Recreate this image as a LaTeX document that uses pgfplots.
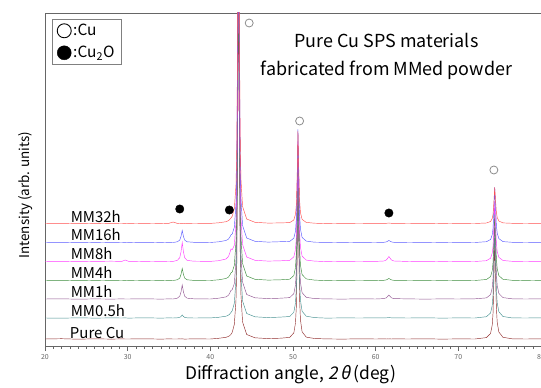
\documentclass[border=0pt]{standalone}
\usepackage{fontspec}
\setmainfont{Noto Sans CJK JP}
\newfontfamily\slfont[FakeSlant=0.2]{Noto Sans CJK JP}
\usepackage{pgfplots}
\usepackage{pgfplotstable}
\pgfplotsset{compat=1.18}
\definecolor{cRed}{RGB}{255,80,80}
\definecolor{cBlue}{RGB}{90,90,255}
\definecolor{cMag}{RGB}{255,60,255}
\definecolor{cGreen}{RGB}{60,140,60}
\definecolor{cPurp}{RGB}{145,85,145}
\definecolor{cTeal}{RGB}{70,145,145}
\definecolor{cBrown}{RGB}{145,45,45}
\pgfplotstableread{
x s1 s2 s3 s4 s5 s6 s7
20 7.0 28.0 47.0 65.5 84.5 103.5 122.5
22 7.3 27.8 47.2 65.3 84.7 103.3 122.7
24 6.8 28.2 46.8 65.7 84.3 103.7 122.3
26 7.2 27.9 47.1 65.4 84.6 103.4 122.6
28 6.9 28.1 46.9 65.6 84.8 103.6 122.4
29.3 7.1 28.0 47.1 65.5 84.6 103.5 122.5
29.7 7.0 28.1 47.0 65.6 86.0 103.6 122.6
30.1 7.0 27.9 47.0 65.4 84.7 103.4 122.4
32 7.2 28.2 47.2 65.6 84.4 103.7 122.6
34 6.9 27.9 46.9 65.4 84.6 103.4 122.4
35 7.1 28.1 47.1 65.6 84.5 103.6 122.7
35.5 7.0 28.0 47.0 65.5 84.6 103.5 124.0
36.0 7.0 28.2 47.8 66.2 85.6 104.2 122.6
36.3 7.1 28.6 49.8 67.9 88.3 105.9 122.5
36.45 7.0 29.5 54.0 71.5 94.0 109.5 122.6
36.6 7.2 31.0 61.0 77.5 103.5 115.5 122.7
36.75 7.0 29.5 54.0 71.5 94.0 109.5 122.5
36.9 6.9 28.6 49.8 67.9 88.3 105.9 122.4
37.2 7.0 28.2 47.8 66.2 85.6 104.2 122.6
38 7.1 28.0 47.2 65.6 84.8 103.7 122.5
40 7.0 28.1 47.0 65.5 84.6 103.5 122.6
41 7.7 28.7 47.8 66.2 85.3 104.2 123.2
41.9 8.7 29.8 49.1 67.5 87.0 105.5 124.3
42.2 9.6 30.9 50.8 69.0 89.6 107.0 125.4
42.35 10.4 32.0 53.0 70.8 93.0 108.8 126.5
42.5 11.6 33.6 55.6 73.1 97.1 111.1 128.1
42.65 13.7 35.3 56.3 74.1 96.3 112.1 129.8
42.9 21.6 42.8 62.4 80.7 100.7 118.7 137.3
43.1 45 66 85.4 103.8 123.3 141.8 160.6
43.2 83 104 123 141.5 160.5 179.5 198.5
43.3 197 218 237 255.5 274.5 293.5 312.5
43.4 387 408 427 445.5 464.5 483.5 502.5
43.5 227 248 267 285.5 304.5 323.5 342.5
43.6 102 123 142 160.5 179.5 198.5 217.5
43.7 52 73 92 110.5 129.5 148.5 167.5
43.9 24 45 64 82.5 101.5 120.5 139.5
44.4 11.5 32.5 51.5 70 89 108 127
45.4 8.2 29.2 48.2 66.7 85.7 104.7 123.7
47 7.4 28.4 47.4 65.9 84.9 103.9 122.9
48.5 7.8 28.9 47.8 66.2 85.2 104.3 123.1
49.6 8.6 29.5 48.4 66.8 85.7 104.6 123.4
50.1 13.1 33.7 52.3 70.4 89.1 107.8 126.0
50.3 23 43 61 78.5 96.5 114.8 131.7
50.4 39 58 75 91.5 108.5 126.1 140.9
50.5 87 103 117 130.5 144.5 160 168.5
50.6 167 178 187 195.5 204.5 216.5 214.5
50.7 99.8 115 128.2 140.9 154.1 169 175.9
50.8 47 65.5 82 98 114.5 131.8 145.5
50.9 26.2 46 63.8 81.1 98.9 117.1 133.5
51.1 14.2 34.8 53.3 71.4 89.9 108.6 126.6
51.6 8.9 29.8 48.7 67.1 85.9 104.9 123.6
52.6 7.5 28.4 47.4 65.9 84.9 103.8 122.8
54 7.1 27.9 47.1 65.4 84.4 103.6 122.4
56 6.9 28.1 46.9 65.6 84.6 103.4 122.6
58 7.2 28.0 47.2 65.5 84.5 103.6 122.5
60 7.0 28.1 47.0 65.4 84.6 103.5 122.6
61.0 7.1 28.1 47.4 65.7 85.0 103.7 122.6
61.3 7.0 28.2 48.2 66.1 86.1 104.1 122.7
61.45 7.1 28.3 49.6 66.8 87.7 104.8 122.8
61.6 7.0 28.5 51.0 67.5 89.5 105.5 123.0
61.75 7.1 28.3 49.6 66.8 87.7 104.8 122.8
61.9 7.0 28.2 48.2 66.1 86.1 104.1 122.7
62.2 7.1 28.1 47.4 65.7 85.0 103.7 122.6
64 7.0 28.0 47.1 65.5 84.5 103.5 122.5
66 7.2 28.2 46.9 65.6 84.7 103.6 122.7
68 6.9 27.9 47.1 65.4 84.4 103.4 122.4
70 7.1 28.1 47.0 65.6 84.6 103.6 122.6
72 7.0 28.0 47.2 65.5 84.5 103.5 122.5
73.4 8.4 29.3 48.1 66.5 85.3 104.3 123.0
73.9 12.5 33 51.4 69.4 87.8 106.5 124.5
74.1 21 40.6 58.2 75.3 92.9 111.2 127.5
74.2 33 51.4 67.8 83.7 100.1 117.8 131.9
74.3 66 81.1 94.2 106.8 119.9 136 143.7
74.4 107 118 127 135.5 144.5 158.5 158.5
74.5 72 86.5 99 111 123.5 139.3 145.9
74.6 39 56.8 72.6 87.9 103.7 121.1 134
74.7 24 43.3 60.6 77.4 94.7 112.9 128.6
74.9 14 34.3 52.6 70.4 88.7 107.4 125
75.4 8.7 29.5 48.4 66.7 85.5 104.4 123.1
76.5 7.2 28.1 47.2 65.7 84.7 103.7 122.7
78 7.0 28.0 47.0 65.4 84.5 103.5 122.5
80 7.1 28.1 47.1 65.6 84.6 103.6 122.6
}\xrd
\begin{document}
\begin{tikzpicture}
\useasboundingbox (0,0) rectangle (541bp,388bp);
\begin{axis}[
  at={(45bp,42bp)}, anchor=south west,
  scale only axis, width=496bp, height=333bp,
  xmin=20, xmax=80, ymin=0, ymax=333,
  xtick={20,30,...,80}, minor x tick num=9,
  ytick=\empty,
  tick align=outside, xtick pos=bottom,
  major tick length=5bp, minor tick length=3bp,
  axis line style={draw=black!60, line width=0.8pt},
  every tick/.style={black!60, line width=0.5pt},
  every minor tick/.style={black!60, line width=0.4pt},
  xticklabel style={font=\fontsize{7}{8}\selectfont, text=black!60},
  /pgf/number format/assume math mode=true,
  xlabel={Diffraction angle, {\slfont 2\,θ}\,(deg)},
  xlabel style={font=\fontsize{17.5}{20}\selectfont, at={(axis description cs:0.495,0)}, anchor=center, yshift=-29bp},
  ylabel={Intensity (arb. units)},
  ylabel style={font=\fontsize{13.5}{16}\selectfont, at={(axis description cs:-0.040,0.453)}, anchor=center},
  legend style={at={(axis description cs:0.014,0.982)}, anchor=north west, draw=black!50, line width=0.6pt, font=\fontsize{15.5}{18}\selectfont, row sep=5bp, inner xsep=5bp, inner ysep=3bp, nodes={inner xsep=2bp}},
  legend cell align=left,
  legend image code/.code={\draw[mark repeat=1,#1] plot coordinates {(0.45em,0em)};},
  every axis plot/.append style={line width=0.45pt},
]
\addlegendimage{only marks, mark=o, mark size=7bp, black, mark options={line width=0.9pt}}
\addlegendentry{:Cu}
\addlegendimage{only marks, mark=*, mark size=7bp, black}
\addlegendentry{:Cu\textsubscript{2}O}
\addplot[cBrown, forget plot] table[x=x, y=s1] {\xrd};
\addplot[cTeal, forget plot] table[x=x, y=s2] {\xrd};
\addplot[cPurp, forget plot] table[x=x, y=s3] {\xrd};
\addplot[cGreen, forget plot] table[x=x, y=s4] {\xrd};
\addplot[cMag, forget plot] table[x=x, y=s5] {\xrd};
\addplot[cBlue, forget plot] table[x=x, y=s6] {\xrd};
\addplot[cRed, forget plot] table[x=x, y=s7] {\xrd};
\addplot[only marks, mark=o, mark size=4bp, black!45, mark options={line width=0.8pt}, forget plot] coordinates {(44.7,323) (50.8,225) (74.3,176)};
\addplot[only marks, mark=*, mark size=4.2bp, black, forget plot] coordinates {(36.3,137) (42.3,136) (61.6,133)};
\node[font=\fontsize{18}{28}\selectfont, align=center] at (axis cs:61.3,290) {Pure Cu SPS materials\\fabricated from MMed powder};
\begin{scope}[every node/.style={font=\fontsize{15}{17}\selectfont, anchor=west, inner sep=0pt}]
\node at (axis cs:23.1,129) {MM32h};
\node at (axis cs:23.1,111) {MM16h};
\node at (axis cs:23.1,92) {MM8h};
\node at (axis cs:23.1,73) {MM4h};
\node at (axis cs:23.1,54) {MM1h};
\node at (axis cs:23.1,35) {MM0.5h};
\node at (axis cs:23.0,13) {Pure Cu};
\end{scope}
\end{axis}
\end{tikzpicture}
\end{document}
